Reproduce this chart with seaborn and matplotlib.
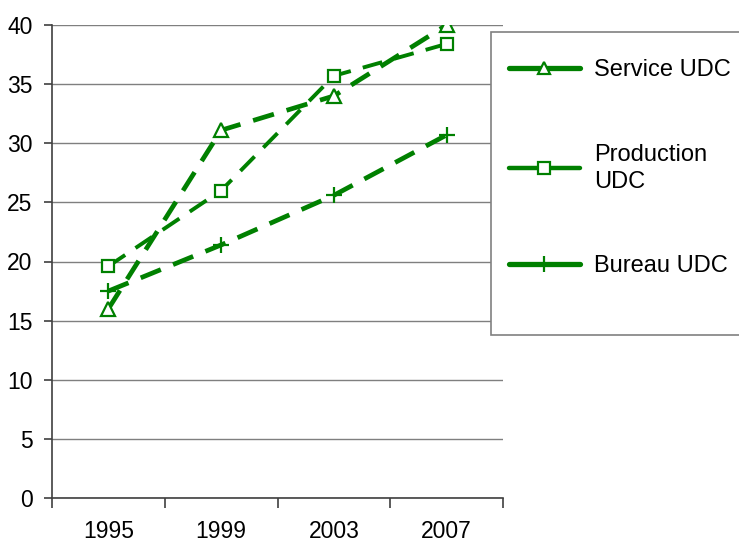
import matplotlib
matplotlib.use("Agg")
import matplotlib.pyplot as plt
import seaborn as sns
import pandas as pd
from matplotlib.lines import Line2D
from matplotlib.patches import Rectangle

years = ["1995", "1999", "2003", "2007"]
service = [16.0, 31.1, 34.0, 40.0]
production = [19.6, 26.0, 35.7, 38.4]
bureau = [17.5, 21.4, 25.6, 30.7]
series_names = ["Service UDC", "Production\nUDC", "Bureau UDC"]
y_ticks = [0, 5, 10, 15, 20, 25, 30, 35, 40]

sns.set_theme(style="white")
plt.rcParams["font.family"] = ["Liberation Sans", "DejaVu Sans"]

W, H = 739, 544
fig = plt.figure(figsize=(W / 100, H / 100), dpi=100)
ax = fig.add_axes([52 / W, 46 / H, (503 - 52) / W, (498 - 25) / H])

green = "#008000"
styles = [
    dict(marker="^", lw=3.4, ms=10, dashes=(4.6, 2.8)),
    dict(marker="s", lw=2.8, ms=9, dashes=(5.2, 3.2)),
    dict(marker="+", lw=3.4, ms=12, dashes=(4.6, 2.8)),
]
data = [service, production, bureau]

for name, vals, st in zip(series_names, data, styles):
    df = pd.DataFrame({"year": years, "value": vals})
    sns.lineplot(data=df, x="year", y="value", ax=ax, color=green,
                 linewidth=st["lw"], marker=st["marker"],
                 markersize=st["ms"], markerfacecolor="white",
                 markeredgecolor=green, markeredgewidth=1.6,
                 legend=False)
    l = ax.get_lines()[-1]
    l.set_dashes(st["dashes"])
    l.set_zorder(3)

ax.set_xlim(-0.5, 3.5)
ax.set_ylim(0, 40)
ax.set_yticks(y_ticks)
ax.set_xlabel("")
ax.set_ylabel("")
ax.grid(axis="y", color="#7f7f7f", lw=1.0)
ax.grid(axis="x", visible=False)
ax.set_axisbelow(True)
for s in ["top", "right"]:
    ax.spines[s].set_visible(False)
for s in ["left", "bottom"]:
    ax.spines[s].set_color("#404040")
    ax.spines[s].set_linewidth(1.2)

ax.set_xticks(range(len(years)))
ax.set_xticklabels(years)
ax.set_xticks([-0.5, 0.5, 1.5, 2.5, 3.5], minor=True)
ax.tick_params(axis="x", which="major", length=0, pad=16, labelsize=16.5, colors="black")
ax.tick_params(axis="x", which="minor", length=7, width=1.2, color="#404040", bottom=True)
ax.tick_params(axis="y", which="major", length=6, width=1.2, color="#404040",
               left=True, pad=8, labelsize=16.5, labelcolor="black")

# legend box
fig.patches.append(Rectangle((491 / W, 1 - 335 / H), (W + 5 - 491) / W, (335 - 32) / H,
                             transform=fig.transFigure, facecolor="white",
                             edgecolor="#808080", lw=1.2, zorder=1))
handles = [Line2D([], [], color=green, lw=st["lw"] + 0.4, marker=st["marker"],
                  markersize=st["ms"] - 1, markerfacecolor="white",
                  markeredgecolor=green, markeredgewidth=1.6)
           for st in styles]
leg = fig.legend(handles, series_names, loc="upper left",
                 bbox_to_anchor=(509 / W, 1 - 59 / H), frameon=False,
                 fontsize=17, handlelength=3.0, handletextpad=0.6,
                 labelspacing=2.65, borderpad=0, borderaxespad=0,
                 labelcolor="black")
for t in leg.get_texts():
    t.set_linespacing(1.3)
leg.set_zorder(5)

fig.savefig("out.png", dpi=100)
